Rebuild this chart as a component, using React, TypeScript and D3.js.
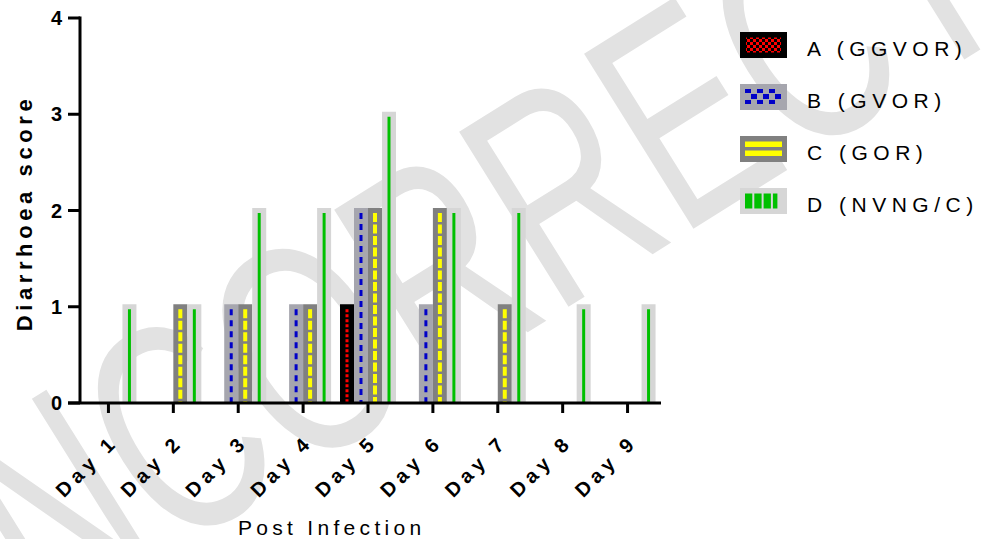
import * as d3 from "d3";

// valores
const days = ["Day 1", "Day 2", "Day 3", "Day 4", "Day 5", "Day 6", "Day 7", "Day 8", "Day 9"];
const groups = ["A", "B", "C", "D"];
const groupLabels = ["A (GGVOR)", "B (GVOR)", "C (GOR)", "D (NVNG/C)"];
const scoreA = [0, 0, 0, 0, 1, 0, 0, 0, 0];
const scoreB = [0, 0, 1, 1, 2, 1, 0, 0, 0];
const scoreC = [0, 1, 1, 1, 2, 2, 1, 0, 0];
const scoreD = [1, 1, 2, 2, 3, 2, 2, 1, 1];
const yTicks = [0, 1, 2, 3, 4];

const series = [scoreA, scoreB, scoreC, scoreD];

// estilo de cada grupo: relleno de la barra y linea interior
const styles = [
  { fill: "#000000", line: "#ff0000", dash: "3 2", lw: 3 },
  { fill: "#a6a6ae", line: "#0000c8", dash: "6 5", lw: 3 },
  { fill: "#808080", line: "#ffff00", dash: "9 2.5", lw: 4 },
  { fill: "#d6d6d6", line: "#00c000", dash: "none", lw: 3 },
];

const font = "Arial, 'Liberation Sans', sans-serif";

const App = () => {
  const width = 982;
  const height = 539;
  const axisX = 80;
  const axisY = 403;

  const x0 = d3
    .scaleBand<string>()
    .domain(days)
    .range([76, 660])
    .paddingInner(0.137)
    .paddingOuter(0.0685);
  const x1 = d3.scaleBand<string>().domain(groups).range([0, x0.bandwidth()]);
  const y = d3.scaleLinear().domain([0, 4]).range([axisY, 18]);

  const legendX = 740;
  const legendY = 32;
  const legendStep = 52;
  const boxW = 47;
  const boxH = 26;

  return (
    <svg
      width={width}
      height={height}
      style={{ position: "absolute", left: 0, top: 0, background: "#fff" }}
    >
      <defs>
        <pattern id="patA" width="6" height="6" patternUnits="userSpaceOnUse">
          <rect width="6" height="6" fill="#000" />
          <rect x="0" y="0" width="3" height="3" fill="#ff0000" />
          <rect x="3" y="3" width="3" height="3" fill="#ff0000" />
        </pattern>
        <pattern id="patB" width="12" height="15" patternUnits="userSpaceOnUse" x={legendX + 5} y={legendY + legendStep + 5}>
          <rect width="12" height="15" fill="#a6a6ae" />
          <rect x="0" y="0" width="6" height="4" fill="#0000c8" />
          <rect x="6" y="5" width="6" height="5" fill="#0000c8" />
          <rect x="0" y="11" width="6" height="4" fill="#0000c8" />
        </pattern>
      </defs>

      {/* marca de agua */}
      <g transform="translate(-80,712) rotate(-32) scale(0.68,1)">
        <text x={0} y={0} fontFamily={font} fontSize={300} fill="#e2e2e2">
          UNCORRECTED PROOF
        </text>
      </g>

      {/* barras */}
      {series.map((vals, si) =>
        vals.map((v, di) => {
          if (v === 0) return null;
          const st = styles[si];
          const bx = (x0(days[di]) ?? 0) + (x1(groups[si]) ?? 0);
          const bw = x1.bandwidth();
          const top = y(v) - 2.5;
          return (
            <g key={`${si}-${di}`}>
              <rect x={bx} y={top} width={bw} height={y(0) - top} fill={st.fill} />
              <line
                x1={bx + bw / 2}
                x2={bx + bw / 2}
                y1={top + 5}
                y2={y(0)}
                stroke={st.line}
                strokeWidth={st.lw}
                strokeDasharray={st.dash}
              />
            </g>
          );
        })
      )}

      {/* eje Y */}
      <line x1={axisX} x2={axisX} y1={y(4) - 1.5} y2={axisY} stroke="#000" strokeWidth={3} />
      {yTicks.map((t) => (
        <g key={t}>
          <line x1={68} x2={axisX} y1={y(t)} y2={y(t)} stroke="#000" strokeWidth={3} />
          <text
            x={62}
            y={y(t)}
            textAnchor="end"
            dominantBaseline="central"
            fontFamily={font}
            fontWeight="bold"
            fontSize={20}
          >
            {t}
          </text>
        </g>
      ))}
      <text
        transform={`translate(32,${213}) rotate(-90)`}
        textAnchor="middle"
        fontFamily={font}
        fontWeight="bold"
        fontSize={22}
        letterSpacing={4.6}
      >
        Diarrhoea score
      </text>

      {/* eje X */}
      <line x1={68} x2={661} y1={axisY} y2={axisY} stroke="#000" strokeWidth={3} />
      {days.map((d) => {
        const cx = (x0(d) ?? 0) + x0.bandwidth() / 2;
        return (
          <g key={d}>
            <line x1={cx} x2={cx} y1={axisY} y2={413} stroke="#000" strokeWidth={3} />
            <text
              transform={`translate(${cx + 11},${443}) rotate(-45)`}
              textAnchor="end"
              fontFamily={font}
              fontWeight="bold"
              fontSize={20}
              letterSpacing={5}
            >
              {d}
            </text>
          </g>
        );
      })}
      <text x={238} y={535} fontFamily={font} fontSize={21} letterSpacing={4.3}>
        Post Infection
      </text>

      {/* leyenda */}
      {groups.map((g, i) => {
        const ly = legendY + i * legendStep;
        const st = styles[i];
        return (
          <g key={g}>
            <rect x={legendX} y={ly} width={boxW} height={boxH} fill={st.fill} />
            {i === 0 && (
              <rect x={legendX + 6} y={ly + 5.5} width={35} height={15} fill="url(#patA)" />
            )}
            {i === 1 && (
              <rect x={legendX + 5} y={ly + 5} width={36} height={15} fill="url(#patB)" />
            )}
            {i === 2 &&
              [0, 1].map((k) => (
                <rect
                  key={k}
                  x={legendX + 5}
                  y={ly + 5.5 + k * 9}
                  width={37}
                  height={5.5}
                  fill="#ffff00"
                />
              ))}
            {i === 3 &&
              [0, 1, 2, 3].map((k) => (
                <rect
                  key={k}
                  x={legendX + 5 + k * 9.3}
                  y={ly + 5.5}
                  width={k === 3 ? 4.5 : 7.3}
                  height={15}
                  fill="#00c000"
                />
              ))}
            <text
              x={807}
              y={ly + 24}
              fontFamily={font}
              fontSize={21}
              letterSpacing={5.5}
            >
              {groupLabels[i]}
            </text>
          </g>
        );
      })}
    </svg>
  );
};

export default App;
